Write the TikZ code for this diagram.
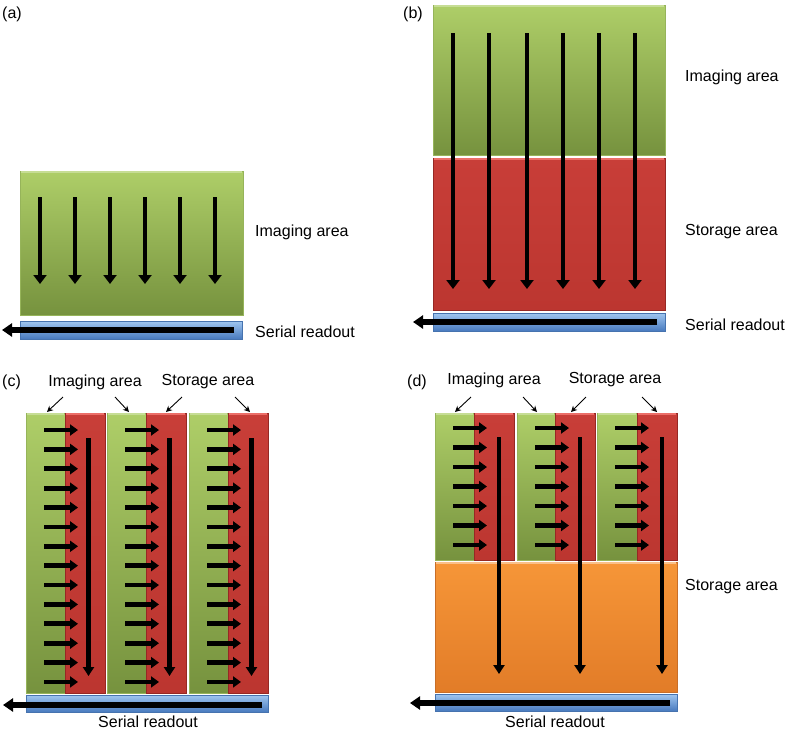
\documentclass[tikz,border=0pt]{standalone}
\usepackage{fontspec}
\setmainfont{Liberation Sans}
\usetikzlibrary{arrows.meta}
\definecolor{gtop}{RGB}{174,206,104}
\definecolor{gbot}{RGB}{118,146,62}
\definecolor{gedge}{RGB}{150,180,90}
\definecolor{rtop}{RGB}{200,62,56}
\definecolor{rbot}{RGB}{188,54,48}
\definecolor{redge}{RGB}{150,40,36}
\definecolor{rhi}{RGB}{236,110,104}
\definecolor{otop}{RGB}{246,150,56}
\definecolor{obot}{RGB}{226,124,40}
\definecolor{oedge}{RGB}{200,110,40}
\definecolor{btop}{RGB}{160,198,240}
\definecolor{bbot}{RGB}{72,122,190}
\definecolor{bedge}{RGB}{70,115,175}
\tikzset{
  greenbox/.style={top color=gtop,bottom color=gbot,draw=gedge,line width=0.6pt},
  redbox/.style={top color=rtop,bottom color=rbot,draw=redge,line width=0.6pt},
  orangebox/.style={top color=otop,bottom color=obot,draw=oedge,line width=0.6pt},
  bluebar/.style={top color=btop,bottom color=bbot,draw=bedge,line width=0.6pt},
  hiline/.style={line width=1.6pt},
  varrow/.style={line width=4.8pt,black,-{Triangle[width=13pt,length=9pt]}},
  vtarrow/.style={line width=4.8pt,black,-{Triangle[width=11pt,length=9pt]}},
  harrow/.style={line width=4.8pt,black,-{Triangle[width=11pt,length=8pt]}},
  sarrow/.style={line width=5.5pt,black,-{Triangle[width=13pt,length=10pt]}},
  labarrow/.style={line width=0.9pt,black,-{Stealth[width=6pt,length=6pt]}},
  lab/.style={font=\fontsize{16}{19}\selectfont,inner sep=0pt},
}
\begin{document}
\begin{tikzpicture}[x=1pt,y=-1pt]
\useasboundingbox (0,0) rectangle (789,732);
\fill[white] (0,0) rectangle (789,732);

% ---------------- panel (a)
\node[lab,anchor=west] (pa) at (2,14) {(a)};
\shade[greenbox] (20,171) rectangle (243,315);
\draw[hiline,gtop!70!white] (21,172) -- (242,172);
\foreach \x in {40,75,110,145,180,215}{
  \coordinate (a1\x) at (\x,197); \coordinate (a2\x) at (\x,284);
  \draw[varrow] (a1\x) -- (a2\x);
}
\shade[bluebar] (20,321) rectangle (242,339);
\coordinate (as1) at (234,330); \coordinate (as2) at (2,330);
\draw[sarrow] (as1) -- (as2);
\node[lab,anchor=west] (aimg) at (255,232) {Imaging area};
\node[lab,anchor=west] (aser) at (255,332) {Serial readout};

% ---------------- panel (b)
\node[lab,anchor=west] (pb) at (403,14) {(b)};
\shade[greenbox] (433,5) rectangle (665,155);
\draw[hiline,gtop!70!white] (434,6) -- (664,6);
\shade[redbox] (433,158) rectangle (665,310);
\draw[hiline,rhi] (434,159) -- (664,159);
\foreach \x in {453,489,527,563,599,635}{
  \coordinate (b1\x) at (\x,33); \coordinate (b2\x) at (\x,289);
  \draw[varrow] (b1\x) -- (b2\x);
}
\shade[bluebar] (433,313) rectangle (665,331);
\coordinate (bs1) at (657,322); \coordinate (bs2) at (413,322);
\draw[sarrow] (bs1) -- (bs2);
\node[lab,anchor=west] (bimg) at (685,77) {Imaging area};
\node[lab,anchor=west] (bsto) at (685,232) {Storage area};
\node[lab,anchor=west] (bser) at (685,325) {Serial readout};

% ---------------- panel (c)
\node[lab,anchor=west] (pc) at (2,382) {(c)};
\node[lab] (cimg) at (95,382) {Imaging area};
\node[lab] (csto) at (208,382) {Storage area};
\foreach \gx/\rx in {26/65,107/146,189/228}{
  \shade[greenbox] (\gx,413) rectangle (\rx,693);
  \draw[hiline,gtop!70!white] (\gx+1,414) -- (\rx-1,414);
  \shade[redbox] (\rx,413) rectangle (\rx+40,693);
  \draw[hiline,rhi] (\rx+1,414) -- (\rx+39,414);
  \foreach \k in {0,...,13}{
    \draw[harrow] (\gx+18,430+19.38*\k) -- (\gx+52,430+19.38*\k);
  }
  \draw[vtarrow] (\rx+23.5,438) -- (\rx+23.5,676);
}
\shade[bluebar] (26,695) rectangle (268,712);
\coordinate (cs1) at (262,705); \coordinate (cs2) at (3,705);
\draw[sarrow] (cs1) -- (cs2);
\node[lab] (cser) at (148,722) {Serial readout};
\coordinate (ci1) at (63,397); \coordinate (ci2) at (47,412);
\coordinate (ci3) at (115,397); \coordinate (ci4) at (129,412);
\coordinate (cs3) at (182,397); \coordinate (cs4) at (166,412);
\coordinate (cs5) at (235,397); \coordinate (cs6) at (250,412);
\draw[labarrow] (ci1) -- (ci2);
\draw[labarrow] (ci3) -- (ci4);
\draw[labarrow] (cs3) -- (cs4);
\draw[labarrow] (cs5) -- (cs6);

% ---------------- panel (d)
\node[lab,anchor=west] (pd) at (407,382) {(d)};
\node[lab] (dimg) at (494,380) {Imaging area};
\node[lab] (dsto) at (615,380) {Storage area};
\shade[orangebox] (435,562) rectangle (677,692);
\draw[hiline,otop!60!white] (436,563) -- (676,563);
\foreach \gx/\rx in {435/474,517/555,597/637}{
  \shade[greenbox] (\gx,413) rectangle (\rx,560);
  \draw[hiline,gtop!70!white] (\gx+1,414) -- (\rx-1,414);
  \shade[redbox] (\rx,413) rectangle (\rx+40,560);
  \draw[hiline,rhi] (\rx+1,414) -- (\rx+39,414);
  \foreach \k in {0,...,6}{
    \draw[harrow] (\gx+18,428+19.5*\k) -- (\gx+52,428+19.5*\k);
  }
  \draw[vtarrow] (\rx+25,437) -- (\rx+25,674);
}
\shade[bluebar] (435,694) rectangle (677,711);
\coordinate (ds1) at (670,703); \coordinate (ds2) at (410,703);
\draw[sarrow] (ds1) -- (ds2);
\node[lab,anchor=west] (dsto2) at (685,587) {Storage area};
\node[lab] (dser) at (555,722) {Serial readout};
\coordinate (di1) at (471,397); \coordinate (di2) at (455,412);
\coordinate (di3) at (523,397); \coordinate (di4) at (537,412);
\coordinate (dt1) at (586,397); \coordinate (dt2) at (571,412);
\coordinate (dt3) at (642,397); \coordinate (dt4) at (657,412);
\draw[labarrow] (di1) -- (di2);
\draw[labarrow] (di3) -- (di4);
\draw[labarrow] (dt1) -- (dt2);
\draw[labarrow] (dt3) -- (dt4);
\end{tikzpicture}
\end{document}
